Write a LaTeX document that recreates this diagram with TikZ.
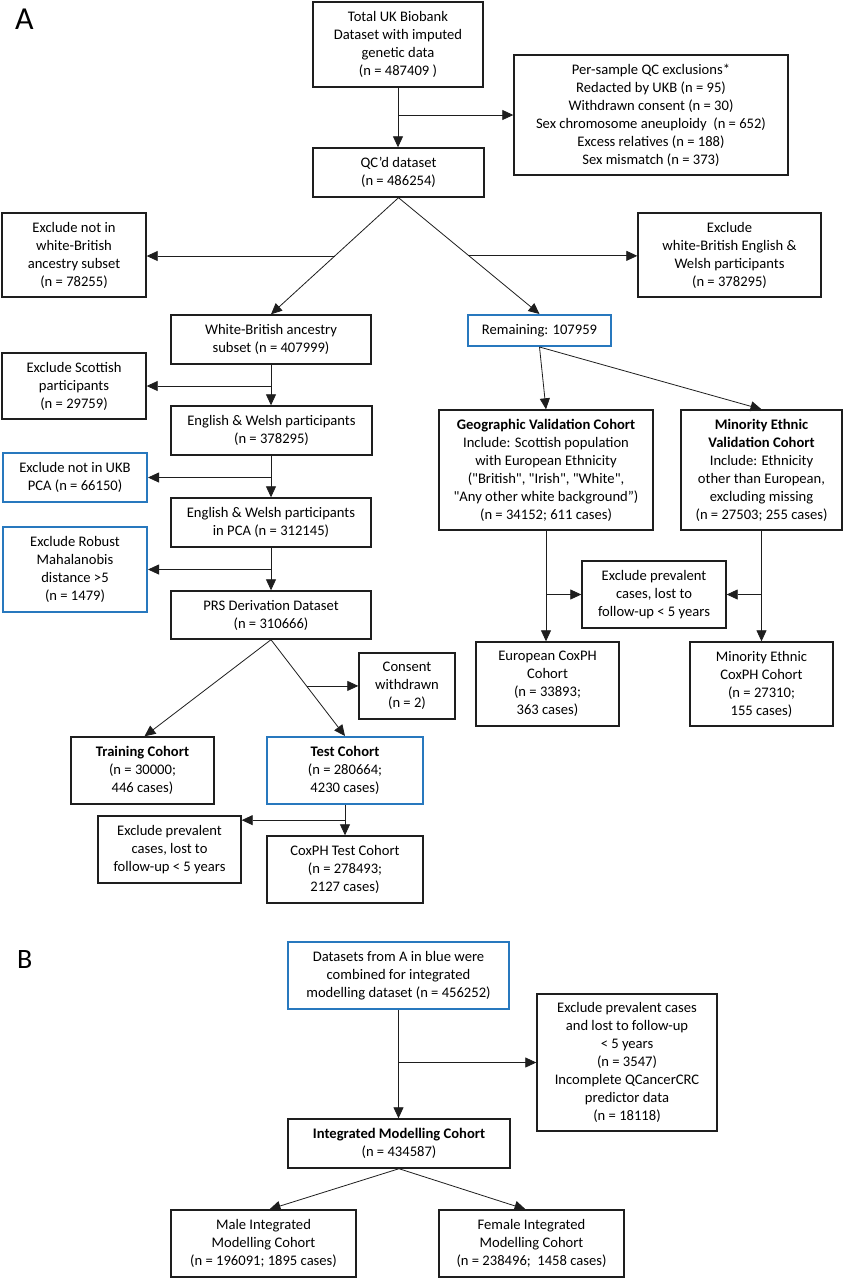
\documentclass[tikz,border=0pt]{standalone}
\usepackage{fontspec}
\setmainfont{Carlito}[Ligatures=TeXOff]
\usetikzlibrary{arrows.meta,calc}
\definecolor{ublue}{RGB}{40,120,190}
\definecolor{lnk}{RGB}{30,30,30}
\tikzset{
  box/.style={draw=lnk, line width=1.4pt, rectangle, inner sep=0pt, align=center,
    font={\fontsize{14.6}{18}\selectfont}},
  bluebox/.style={draw=ublue, line width=2pt},
  arr/.style={draw=lnk, line width=0.8pt, -{Triangle[length=11pt,width=10pt]}},
  panel/.style={inner sep=0pt, anchor=base west}
}
\newcommand\bx[7][]{\node[box,#1,minimum width={#5-#3},minimum height={#6-#4}] (#2) at ({(#3+#5)/2},{(#4+#6)/2}) {#7};}
\begin{document}
\begin{tikzpicture}[x=1pt,y=-1pt]
\useasboundingbox[fill=white] (0,0) rectangle (846,1280);
% panel labels
\node[panel, font={\fontsize{32}{36}\selectfont}] (labA) at (15,29) {A};
\node[panel, font={\fontsize{28}{32}\selectfont}] (labB) at (17,968) {B};
% ---- Panel A ----
\bx{total}{313}{2}{483}{87}{Total UK Biobank\\Dataset with imputed\\genetic data\\(n = 487409 )}
\bx{perqc}{514}{55}{788}{175}{Per-sample QC exclusions*\\Redacted by UKB (n = 95)\\Withdrawn consent (n = 30)\\Sex chromosome aneuploidy~ (n = 652)\\Excess relatives (n = 188)\\Sex mismatch (n = 373)}
\bx{qc}{313}{148}{484}{197}{QC’d dataset\\(n = 486254)}
\bx{exwb}{2}{213}{146}{297}{Exclude not in\\white-British\\ancestry subset\\(n = 78255)}
\bx{exwbew}{638}{213}{821}{297}{Exclude\\white-British English \&\\Welsh participants\\(n = 378295)}
\bx{wb}{171}{315}{371}{364}{White-British ancestry\\subset (n = 407999)}
\bx[bluebox]{rem}{468}{315}{611}{346}{Remaining: 107959}
\bx{exsc}{2}{353}{146}{419}{Exclude Scottish\\participants\\(n = 29759)}
\bx{ew}{171}{406}{372}{455}{English \& Welsh participants\\(n = 378295)}
\bx[bluebox]{expca}{3}{453}{147}{502}{Exclude not in UKB\\PCA (n = 66150)}
\bx{ewpca}{171}{498}{371}{547}{English \& Welsh participants\\in PCA (n = 312145)}
\bx[bluebox]{exmaha}{3}{527}{147}{612}{Exclude Robust\\Mahalanobis\\distance >5\\(n = 1479)}
\bx{prs}{171}{591}{371}{639}{PRS Derivation Dataset\\(n = 310666)}
\bx{consent}{359}{653}{455}{719}{Consent\\withdrawn\\(n = 2)}
\bx{train}{71}{737}{214}{804}{\textbf{Training Cohort}\\(n = 30000;\\446 cases)}
\bx[bluebox]{test}{267}{737}{423}{804}{\textbf{Test Cohort}\\(n = 280664;\\4230 cases)}
\bx{exprev1}{98}{816}{241}{883}{Exclude prevalent\\cases, lost to\\follow-up < 5 years}
\bx{cox}{267}{836}{423}{903}{CoxPH Test Cohort\\(n = 278493;\\2127 cases)}
\bx{geo}{439}{410}{653}{530}{\textbf{Geographic Validation Cohort}\\Include: Scottish population\\with European Ethnicity\\("British", "Irish", "White",\\"Any other white background”)\\(n = 34152; 611 cases)}
\bx{me}{681}{410}{842}{530}{\textbf{Minority Ethnic}\\\textbf{Validation Cohort}\\Include: Ethnicity\\other than European,\\excluding missing\\(n = 27503; 255 cases)}
\bx{exprev2}{582}{561}{726}{628}{Exclude prevalent\\cases, lost to\\follow-up < 5 years}
\bx{eucox}{476}{642}{619}{726}{European CoxPH\\Cohort\\(n = 33893;\\363 cases)}
\bx{mecox}{690}{642}{833}{726}{Minority Ethnic\\CoxPH Cohort\\(n = 27310;\\155 cases)}
% ---- Panel B ----
\bx[bluebox]{data}{288}{942}{509}{1009}{Datasets from A in blue were\\combined for integrated\\modelling dataset (n = 456252)}
\bx{exB}{537}{994}{717}{1131}{Exclude prevalent cases\\and lost to follow-up\\< 5 years\\(n = 3547)\\Incomplete QCancerCRC\\predictor data\\(n = 18118)}
\bx{integ}{288}{1119}{510}{1168}{\textbf{Integrated Modelling Cohort}\\(n = 434587)}
\bx{male}{171}{1210}{356}{1277}{Male Integrated\\Modelling Cohort\\(n = 196091; 1895 cases)}
\bx{female}{439}{1210}{624}{1277}{Female Integrated\\Modelling Cohort\\(n = 238496;~ 1458 cases)}
% ---- connectors A ----
\draw[arr] (total.south) -- (total.south |- qc.north);
\draw[arr] (total.south |- perqc.west) -- (perqc.west);
\draw[arr] (qc.south) -- (wb.north);
\draw[arr] (qc.south) -- (rem.north);
\coordinate (m1) at ($(qc.south)!0.5!(wb.north)$);
\coordinate (m2) at ($(qc.south)!0.5!(rem.north)$);
\draw[arr] (m1) -- (m1 -| exwb.east);
\draw[arr] (m2) -- (m2 -| exwbew.west);
\draw[arr] (wb.south) -- (wb.south |- ew.north);
\draw[arr] (wb.south |- exsc.east) -- (exsc.east);
\draw[arr] (wb.south |- ew.south) -- (wb.south |- ewpca.north);
\draw[arr] (wb.south |- expca.east) -- (expca.east);
\draw[arr] (wb.south |- ewpca.south) -- (wb.south |- prs.north);
\draw[arr] (wb.south |- exmaha.east) -- (exmaha.east);
\draw[arr] (prs.south) -- ([xshift=2pt]train.north);
\draw[arr] (prs.south) -- (test.north);
\coordinate (m3) at ($(prs.south)!0.48!(test.north)$);
\draw[arr] (m3) -- (m3 -| consent.west);
\draw[arr] (test.south) -- (cox.north);
\coordinate (m4) at ($(test.south)!0.5!(cox.north)$);
\draw[arr] (m4) -- (m4 -| exprev1.east);
\draw[arr] (rem.south) -- (geo.north);
\draw[arr] (rem.south) -- (me.north);
\draw[arr] (geo.south) -- (geo.south |- eucox.north);
\draw[arr] (me.south) -- (me.south |- mecox.north);
\draw[arr] (geo.south |- exprev2.west) -- (exprev2.west);
\draw[arr] (me.south |- exprev2.east) -- (exprev2.east);
% ---- connectors B ----
\draw[arr] (data.south) -- (data.south |- integ.north);
\draw[arr] (data.south |- exB.west) -- (exB.west);
\draw[arr] (integ.south) -- ([xshift=6pt]male.north);
\draw[arr] (integ.south) -- ([xshift=-6pt]female.north);
\end{tikzpicture}
\end{document}
